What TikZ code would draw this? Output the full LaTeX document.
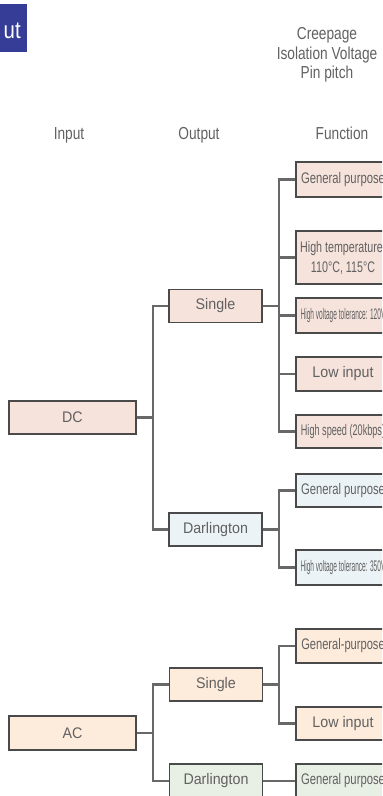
\documentclass[tikz,border=0pt]{standalone}
\usepackage{fontspec}
\usepackage{graphicx}
\setmainfont{Liberation Sans}
\newfontfamily\boxfont{Liberation Sans}[FakeStretch=0.93]
\newfontfamily\headfont{Liberation Sans}[FakeStretch=0.79]
\newfontfamily\titlefont{Liberation Sans}[FakeStretch=0.85]
\definecolor{titleblue}{HTML}{353D96}
\definecolor{txtgray}{HTML}{616161}
\definecolor{boxline}{HTML}{4A4A4A}
\definecolor{linkgray}{HTML}{686868}
\definecolor{dcpink}{HTML}{F6E3DC}
\definecolor{dcblue}{HTML}{ECF3F6}
\definecolor{acpeach}{HTML}{FDEBDB}
\definecolor{acgreen}{HTML}{E8EFE5}
\begin{document}
\begin{tikzpicture}[x=0.75pt,y=-0.75pt,
    box/.style={draw=boxline, line width=0.9pt, text=txtgray, inner sep=0pt, minimum height=24.75pt, font=\boxfont\fontsize{11.5}{15}\selectfont},
    inbox/.style={box, minimum width=95.25pt},
    outbox/.style={box, minimum width=69.75pt},
    funbox/.style={box, minimum width=70.5pt},
    link/.style={draw=linkgray, line width=1.6pt},
    head/.style={text=txtgray, inner sep=0pt, anchor=base, font=\headfont\fontsize{13}{15}\selectfont}]

    \useasboundingbox (0,0) rectangle (382,796);
    \clip (0,0) rectangle (382,796);

    \fill[titleblue] (-10,4) rectangle (27,52);
    \node[anchor=base east, inner sep=0pt, text=white, font=\titlefont\fontsize{18}{20}\selectfont] (title) at (21,38) {ut};

    \node[head] (creep) at (327,39) {Creepage};
    \node[head] (isol) at (327,59) {Isolation Voltage};
    \node[head] (pitch) at (327,78) {Pin pitch};
    \node[head] (hin) at (69,139) {Input};
    \node[head] (hout) at (199,139) {Output};
    \node[head] (hfun) at (342,139) {Function};

    \node[inbox, fill=dcpink] (dc) at (72.5,417.5) {DC};
    \node[outbox, fill=dcpink] (dcs) at (215.5,306) {Single};
    \node[outbox, fill=dcblue] (dcd) at (215.5,529.5) {Darlington};

    \node[funbox, fill=dcpink, minimum height=26.25pt] (dcs1) at (343,179.5) {\scalebox{0.79}[1]{General purpose}};
    \node[funbox, fill=dcpink, minimum height=39.75pt, align=center] (dcs2) at (343,257.5) {\scalebox{0.75}[1]{High temperature:}\\\scalebox{0.75}[1]{110°C, 115°C}};
    \node[funbox, fill=dcpink, minimum height=26.25pt] (dcs3) at (343,315.5) {\scalebox{0.46}[1]{High voltage tolerance: 120V}};
    \node[funbox, fill=dcpink, minimum height=25.5pt] (dcs4) at (343,374) {Low input};
    \node[funbox, fill=dcpink] (dcs5) at (343,431.5) {\scalebox{0.64}[1]{High speed (20kbps)}};

    \node[funbox, fill=dcblue] (dcd1) at (343,490.5) {\scalebox{0.79}[1]{General purpose}};
    \node[funbox, fill=dcblue, minimum height=26.25pt] (dcd2) at (343,567.5) {\scalebox{0.46}[1]{High voltage tolerance: 350V}};

    \node[inbox, fill=acpeach, minimum height=25.5pt] (ac) at (72.5,733) {AC};
    \node[outbox, fill=acpeach] (acs) at (216,684.5) {Single};
    \node[outbox, fill=acgreen, minimum height=25.5pt] (acd) at (216,781) {Darlington};

    \node[funbox, fill=acpeach, minimum height=25.5pt] (acs1) at (343,646) {\scalebox{0.78}[1]{General-purpose}};
    \node[funbox, fill=acpeach] (acs2) at (343,723.5) {Low input};
    \node[funbox, fill=acgreen, minimum height=25.5pt] (acd1) at (343,781) {\scalebox{0.79}[1]{General purpose}};

    \coordinate (b1) at (153,0);
    \coordinate (b2) at (279,0);

    \foreach \c in {dcs,dcd} \draw[link] (dc.east) -- (dc.east -| b1) |- (\c.west);
    \foreach \f in {dcs1,dcs2,dcs3,dcs4,dcs5} \draw[link] (dcs.east) -- (dcs.east -| b2) |- (\f.west);
    \foreach \f in {dcd1,dcd2} \draw[link] (dcd.east) -- (dcd.east -| b2) |- (\f.west);

    \foreach \c in {acs,acd} \draw[link] (ac.east) -- (ac.east -| b1) |- (\c.west);
    \foreach \f in {acs1,acs2} \draw[link] (acs.east) -- (acs.east -| b2) |- (\f.west);
    \draw[link] (acd.east) -- (acd1.west);
\end{tikzpicture}
\end{document}
